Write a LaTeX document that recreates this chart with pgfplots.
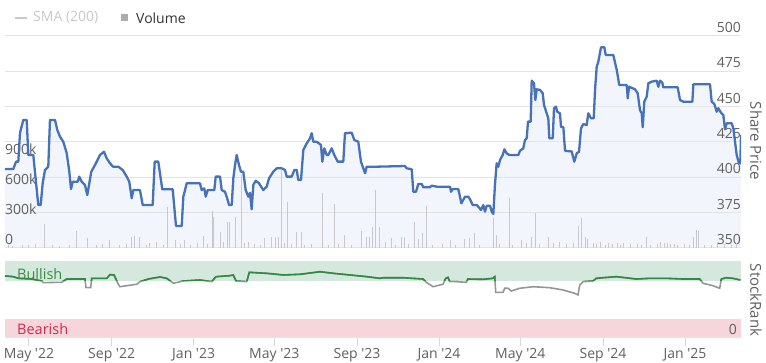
\documentclass[border=0pt]{standalone}
\usepackage{pgfplots}
\pgfplotsset{compat=1.18}
\usepackage{fontspec}
\setmainfont{Open Sans}
\definecolor{pricecol}{RGB}{69,114,185}
\definecolor{pricefill}{RGB}{242,245,252}
\definecolor{gridcol}{RGB}{228,228,228}
\definecolor{labcol}{RGB}{96,96,96}
\definecolor{volcol}{RGB}{200,200,205}
\definecolor{bullband}{RGB}{213,232,221}
\definecolor{bearband}{RGB}{246,213,219}
\definecolor{bullline}{RGB}{46,139,64}
\definecolor{bulltext}{RGB}{58,140,74}
\definecolor{beartext}{RGB}{206,45,75}
\definecolor{rankgray}{RGB}{150,150,150}
\definecolor{tickcol}{RGB}{210,216,228}
\definecolor{smacol}{RGB}{200,200,200}
\definecolor{legdark}{RGB}{51,51,51}

\pgfplotsset{
  base/.style={scale only axis, width=736pt, xmin=-35.7, xmax=1059.3,
    axis line style={draw=none}, tick style={draw=none}, xtick=\empty,
    scaled y ticks=false,
    /pgf/number format/assume math mode=true,
    every tick label/.append style={font=\fontsize{14}{16}\selectfont, text=labcol}},
}

\begin{document}
\begin{tikzpicture}
\useasboundingbox (0pt,0pt) rectangle (766pt,363pt);

% ---------- price axis: grid, labels, fill ----------
\begin{axis}[base, at={(5pt,115pt)}, anchor=south west, height=212pt,
  ymin=350, ymax=500, ytick={350,375,400,425,450,475,500},
  yticklabels={350,375,400,425,450,475,500},
  ymajorgrids, grid style={gridcol, line width=1pt},
  yticklabel pos=right, ytick pos=right,
  yticklabel style={anchor=south east, inner sep=0pt, yshift=3pt},
  axis on top]
\addplot[draw=none, fill=pricefill] coordinates {
(-35.7,405.9) (-23.4,405.9) (-19.3,411.1) (-15.9,411.1) (-13.4,431.4) (-8.5,440.6) (-3.4,440.6) (-1.0,415.8) (6.4,415.8) (13.8,380.4) (17.4,380.4) (20.4,396) (23.8,405.2) (28.7,407.5) (31.2,440.6) (38.7,440.6) (42.1,433.5) (46.1,428.8) (51.0,425.2) (56.1,417.2) (60.0,404) (62.5,391.7) (65.0,396.9) (72.5,396.9) (74.8,400.5) (78.4,396.9) (83.3,394.6) (86.7,387.5) (89.7,395.8) (92.7,404) (98.2,408.7) (105.6,415.8) (111.6,418.1) (115.6,413.5) (120.5,409.9) (125.4,407.5) (132.9,407.5) (139.4,405.2) (145.4,400.5) (149.2,396.9) (152.8,385.2) (155.2,391) (165.1,391) (169.2,380.4) (184.0,380.4) (187.0,411.1) (192.4,411.1) (198.3,391.5) (213.8,391.5) (218.7,365.6) (227.2,365.6) (229.6,386.3) (232.1,391) (234.6,395.8) (254.4,395.8) (256.9,391) (260.8,392.2) (262.9,386.3) (265.9,391) (275.7,391) (277.8,400.5) (284.2,400.5) (286.7,391) (291.6,389.8) (295.6,384) (297.6,380.4) (301.6,380.4) (304.0,399.3) (306.5,408.7) (309.0,415.8) (312.4,408.7) (315.4,404) (318.8,404) (322.4,391) (326.3,386.3) (328.8,389) (331.3,377.4) (333.7,394.6) (337.3,397.6) (342.2,395.8) (348.6,391) (353.6,393.4) (357.1,399.3) (363.5,404) (368.5,406.4) (376.0,406.4) (380.9,405.2) (383.4,400.5) (390.8,400.5) (394.7,405.2) (398.3,405.2) (400.7,398.1) (404.7,398.1) (408.1,419.3) (413.2,424.1) (418.1,427.6) (420.6,431.2) (423.0,425.2) (428.0,425.2) (434.4,422.9) (436.4,411.1) (439.3,420.5) (442.9,415.8) (445.3,415.8) (450.3,420.5) (454.2,415.8) (459.3,411.1) (467.6,411.1) (470.1,431.2) (480.1,431.6) (484.0,426.4) (489.9,425.2) (493.9,411.1) (499.9,402.9) (502.4,407.5) (514.8,407.5) (559.4,408) (561.9,406.4) (569.4,405.7) (571.8,389.8) (575.8,389.8) (579.2,395.3) (584.3,395.3) (586.6,393) (596.6,393) (599.1,394.1) (606.6,393.4) (626.4,393.4) (627.9,389.8) (630.4,391.7) (638.7,391.7) (641.2,386.3) (643.2,381.6) (648.7,386.3) (653.6,386.3) (656.1,384.5) (660.1,380.4) (666.1,380.4) (668.5,379.2) (672.5,376.9) (675.9,380.4) (678.4,375.7) (681.0,379.9) (685.9,379.9) (688.4,375.7) (690.8,374.1) (693.3,395.3) (695.8,409.9) (698.2,407.5) (700.8,412.3) (704.8,415.8) (707.2,419.8) (710.7,417) (714.6,415.8) (728.0,415.8) (730.5,418.8) (735.4,420.5) (737.9,426.4) (740.5,427.6) (742.4,439.4) (746.4,439.4) (747.9,468.4) (751.3,466.5) (753.3,454.7) (755.4,462.3) (760.3,461.8) (764.3,459.5) (766.2,451.2) (772.6,441.8) (774.1,427.6) (779.2,427.6) (781.1,448.9) (784.1,450) (786.0,446.4) (790.0,445.3) (791.5,435.8) (795.0,435.4) (797.5,418.8) (807.4,418.3) (811.3,411.1) (814.9,417) (818.3,418.1) (821.3,434.7) (824.7,437.7) (829.7,437) (832.1,445.3) (836.1,441.8) (840.2,441.8) (842.1,461.8) (844.6,478.3) (847.0,481.8) (851.0,492) (856.0,492) (858.0,486.6) (869.3,486.6) (874.4,476) (878.2,465.3) (889.3,465.3) (890.8,455.9) (892.7,464.1) (901.6,462.3) (905.6,459.5) (909.0,447.6) (911.6,445.3) (913.1,435.4) (915.4,453.5) (919.0,457.1) (921.4,466.5) (926.5,467.7) (933.9,468.4) (936.3,464.1) (938.8,468.4) (942.2,467) (943.7,463.7) (965.1,463.7) (968.6,454.7) (973.5,453.5) (986.9,453.5) (988.4,465.8) (1013.2,465.8) (1015.7,453.5) (1019.6,451.9) (1023.2,446.4) (1025.5,448.9) (1029.6,445.7) (1033.0,444.1) (1035.5,434) (1038.0,438.2) (1045.5,438.2) (1047.9,434.7) (1052.9,415.8) (1056.3,409.9) (1058.3,409.9) (1059.3,430)
} \closedcycle;
\end{axis}

% ---------- volume axis ----------
\begin{axis}[base, at={(5pt,115pt)}, anchor=south west, height=212pt,
  ymin=0, ymax=2120000, ytick={0,300000,600000,900000},
  yticklabels={0,300k,600k,900k},
  yticklabel pos=left, ytick pos=left,
  yticklabel style={anchor=south west, inner sep=0pt, yshift=3pt}]
\addplot[ycomb, volcol, line width=1pt, mark=none] coordinates {
(22.8,237000) (71.0,170000) (86.7,97000) (120.5,80000) (152.8,113000) (157.7,120000) (165.1,113000) (190.4,63000) (206.4,413000) (218.3,80000) (231.1,80000) (259.3,120000) (273.3,370000) (275.2,313000) (284.2,163000) (295.6,257000) (299.0,263000) (306.5,313000) (316.5,730000) (326.3,63000) (351.1,97000) (361.1,113000) (366.0,113000) (370.9,113000) (376.0,780000) (384.6,460000) (398.3,163000) (405.7,163000) (437.0,547000) (454.2,435000) (469.1,130000) (495.0,170000) (502.4,113000) (507.3,113000) (511.4,213000) (515.5,580000) (521.2,213000) (539.6,97000) (554.5,113000) (559.4,113000) (572.8,255000) (579.2,85000) (585.7,147000) (591.7,420000) (627.4,80000) (647.2,87000) (655.1,103000) (662.1,147000) (691.8,295000) (694.8,130000) (714.6,500000) (733.0,80000) (747.9,113000) (753.6,347000) (772.6,113000) (817.3,220000) (822.3,297000) (827.2,113000) (831.2,90000) (919.0,113000) (988.4,113000) (993.4,180000) (995.8,170000)
(-30,30000) (-25,20000) (-10,25000) (0,30000) (10,40000) (35,25000) (45,20000) (60,30000) (100,25000) (110,35000) (135,30000) (145,40000) (175,30000) (180,45000) (200,25000) (225,40000) (240,30000) (250,50000) (265,40000) (290,60000) (320,50000) (335,40000) (345,30000) (380,50000) (390,40000) (410,30000) (420,40000) (445,25000) (460,35000) (480,30000) (530,60000) (545,30000) (565,40000) (600,30000) (615,40000) (635,30000) (670,25000) (700,40000) (720,30000) (740,50000) (760,40000) (780,50000) (790,60000) (800,40000) (810,50000) (840,50000) (845,40000) (850,60000) (858,30000) (862,50000) (868,40000) (875,50000) (880,30000) (885,45000) (895,40000) (905,35000) (912,30000) (925,30000) (935,40000) (940,60000) (945,50000) (950,45000) (955,40000) (960,35000) (965,30000) (975,40000) (983,30000) (1005,30000) (1015,25000) (1025,35000) (1035,40000) (1045,30000) (1052,50000)
};
\end{axis}

% ---------- price line ----------
\begin{axis}[base, at={(5pt,115pt)}, anchor=south west, height=212pt,
  ymin=350, ymax=500, ytick=\empty]
\addplot[pricecol, line width=2.3pt, line join=round, mark=none] coordinates {
(-35.7,405.9) (-23.4,405.9) (-19.3,411.1) (-15.9,411.1) (-13.4,431.4) (-8.5,440.6) (-3.4,440.6) (-1.0,415.8) (6.4,415.8) (13.8,380.4) (17.4,380.4) (20.4,396) (23.8,405.2) (28.7,407.5) (31.2,440.6) (38.7,440.6) (42.1,433.5) (46.1,428.8) (51.0,425.2) (56.1,417.2) (60.0,404) (62.5,391.7) (65.0,396.9) (72.5,396.9) (74.8,400.5) (78.4,396.9) (83.3,394.6) (86.7,387.5) (89.7,395.8) (92.7,404) (98.2,408.7) (105.6,415.8) (111.6,418.1) (115.6,413.5) (120.5,409.9) (125.4,407.5) (132.9,407.5) (139.4,405.2) (145.4,400.5) (149.2,396.9) (152.8,385.2) (155.2,391) (165.1,391) (169.2,380.4) (184.0,380.4) (187.0,411.1) (192.4,411.1) (198.3,391.5) (213.8,391.5) (218.7,365.6) (227.2,365.6) (229.6,386.3) (232.1,391) (234.6,395.8) (254.4,395.8) (256.9,391) (260.8,392.2) (262.9,386.3) (265.9,391) (275.7,391) (277.8,400.5) (284.2,400.5) (286.7,391) (291.6,389.8) (295.6,384) (297.6,380.4) (301.6,380.4) (304.0,399.3) (306.5,408.7) (309.0,415.8) (312.4,408.7) (315.4,404) (318.8,404) (322.4,391) (326.3,386.3) (328.8,389) (331.3,377.4) (333.7,394.6) (337.3,397.6) (342.2,395.8) (348.6,391) (353.6,393.4) (357.1,399.3) (363.5,404) (368.5,406.4) (376.0,406.4) (380.9,405.2) (383.4,400.5) (390.8,400.5) (394.7,405.2) (398.3,405.2) (400.7,398.1) (404.7,398.1) (408.1,419.3) (413.2,424.1) (418.1,427.6) (420.6,431.2) (423.0,425.2) (428.0,425.2) (434.4,422.9) (436.4,411.1) (439.3,420.5) (442.9,415.8) (445.3,415.8) (450.3,420.5) (454.2,415.8) (459.3,411.1) (467.6,411.1) (470.1,431.2) (480.1,431.6) (484.0,426.4) (489.9,425.2) (493.9,411.1) (499.9,402.9) (502.4,407.5) (514.8,407.5) (559.4,408) (561.9,406.4) (569.4,405.7) (571.8,389.8) (575.8,389.8) (579.2,395.3) (584.3,395.3) (586.6,393) (596.6,393) (599.1,394.1) (606.6,393.4) (626.4,393.4) (627.9,389.8) (630.4,391.7) (638.7,391.7) (641.2,386.3) (643.2,381.6) (648.7,386.3) (653.6,386.3) (656.1,384.5) (660.1,380.4) (666.1,380.4) (668.5,379.2) (672.5,376.9) (675.9,380.4) (678.4,375.7) (681.0,379.9) (685.9,379.9) (688.4,375.7) (690.8,374.1) (693.3,395.3) (695.8,409.9) (698.2,407.5) (700.8,412.3) (704.8,415.8) (707.2,419.8) (710.7,417) (714.6,415.8) (728.0,415.8) (730.5,418.8) (735.4,420.5) (737.9,426.4) (740.5,427.6) (742.4,439.4) (746.4,439.4) (747.9,468.4) (751.3,466.5) (753.3,454.7) (755.4,462.3) (760.3,461.8) (764.3,459.5) (766.2,451.2) (772.6,441.8) (774.1,427.6) (779.2,427.6) (781.1,448.9) (784.1,450) (786.0,446.4) (790.0,445.3) (791.5,435.8) (795.0,435.4) (797.5,418.8) (807.4,418.3) (811.3,411.1) (814.9,417) (818.3,418.1) (821.3,434.7) (824.7,437.7) (829.7,437) (832.1,445.3) (836.1,441.8) (840.2,441.8) (842.1,461.8) (844.6,478.3) (847.0,481.8) (851.0,492) (856.0,492) (858.0,486.6) (869.3,486.6) (874.4,476) (878.2,465.3) (889.3,465.3) (890.8,455.9) (892.7,464.1) (901.6,462.3) (905.6,459.5) (909.0,447.6) (911.6,445.3) (913.1,435.4) (915.4,453.5) (919.0,457.1) (921.4,466.5) (926.5,467.7) (933.9,468.4) (936.3,464.1) (938.8,468.4) (942.2,467) (943.7,463.7) (965.1,463.7) (968.6,454.7) (973.5,453.5) (986.9,453.5) (988.4,465.8) (1013.2,465.8) (1015.7,453.5) (1019.6,451.9) (1023.2,446.4) (1025.5,448.9) (1029.6,445.7) (1033.0,444.1) (1035.5,434) (1038.0,438.2) (1045.5,438.2) (1047.9,434.7) (1052.9,415.8) (1056.3,409.9) (1058.3,409.9) (1059.3,430)
};
\end{axis}

% ---------- StockRank panel ----------
\begin{axis}[base, at={(5pt,25pt)}, anchor=south west, height=76pt,
  ymin=0, ymax=100, ytick={0,100}, yticklabels={0,{}},
  ymajorgrids, grid style={gridcol, line width=1pt},
  yticklabel pos=right, ytick pos=right,
  yticklabel style={anchor=south east, inner sep=0pt, yshift=3pt, xshift=-12pt},
  xtick={0,123,245,365,488,610,731,854,976},
  xticklabels={May \textquotesingle22,Sep \textquotesingle22,Jan \textquotesingle23,May \textquotesingle23,Sep \textquotesingle23,Jan \textquotesingle24,May \textquotesingle24,Sep \textquotesingle24,Jan \textquotesingle25},
  xtick pos=bottom, tick align=outside, major tick length=8pt,
  xtick style={draw=tickcol, line width=1pt}, ytick style={draw=none},
  xticklabel style={anchor=north, inner sep=0pt, yshift=-2pt},
  axis on top]
\addplot[fill=bullband, draw=none] coordinates {(-35.7,75) (1059.3,75) (1059.3,100) (-35.7,100)} -- cycle;
\addplot[fill=bearband, draw=none] coordinates {(-35.7,0) (1059.3,0) (1059.3,25) (-35.7,25)} -- cycle;
\addplot[rankgray, line width=1.6pt, mark=none] coordinates {
(-35.7,81.6) (-23.4,80.7) (-15.9,78.5) (4.0,77.6) (18.9,75) (21.3,72.8) (48.7,73.3) (56.1,77.6) (83.3,77.6) (84.8,66.2) (91.8,66.2) (93.3,78.5) (115.6,78.5) (120.5,83.4) (126.5,82.9) (132.9,70.7) (135.4,67.5) (145.4,68.8) (160.2,70.7) (165.1,74.1) (177.5,77.6) (194.9,80.3) (204.9,78.5) (214.7,72) (229.6,75) (254.4,76.3) (271.8,74.1) (278.2,80.7) (299.0,82) (303.9,82.9) (308.0,75) (323.9,74.1) (327.8,86.4) (353.6,85.1) (378.3,82.9) (403.2,83.8) (433.0,87.2) (452.7,85.1) (477.6,82.9) (502.4,80.7) (522.2,78.5) (526.7,79.3) (556.4,79.3) (586.2,77.6) (591.1,73.3) (601.1,67.5) (611.1,69.7) (616.0,70.7) (620.0,78.5) (623.4,79.8) (626.0,74.1) (635.7,74.1) (650.6,73.3) (653.1,77.6) (675.5,77.2) (690.3,78.5) (692.9,80.7) (694.4,60.1) (705.2,60.1) (707.8,65.4) (712.7,65.4) (717.6,61.8) (730.1,65.4) (749.9,67.5) (774.7,66.2) (794.5,63.2) (811.9,58.8) (816.8,56.6) (819.3,69.7) (824.2,74.1) (839.1,75) (844.0,78.5) (854.0,79.3) (873.8,80.7) (903.6,77.6) (923.5,78.5) (948.2,78.5) (973.0,77.6) (997.9,77.6) (1002.8,72) (1017.7,68.8) (1027.6,65.4) (1030.0,77.6) (1037.4,79.3) (1047.4,78.5) (1058.3,76.3)
};
\end{axis}

% green part of the StockRank line (bullish zone only)
\begin{axis}[base, at={(5pt,82pt)}, anchor=south west, height=19pt,
  ymin=75, ymax=100, ytick=\empty]
\addplot[bullline, line width=1.6pt, mark=none] coordinates {
(-35.7,81.6) (-23.4,80.7) (-15.9,78.5) (4.0,77.6) (18.9,75) (21.3,72.8) (48.7,73.3) (56.1,77.6) (83.3,77.6) (84.8,66.2) (91.8,66.2) (93.3,78.5) (115.6,78.5) (120.5,83.4) (126.5,82.9) (132.9,70.7) (135.4,67.5) (145.4,68.8) (160.2,70.7) (165.1,74.1) (177.5,77.6) (194.9,80.3) (204.9,78.5) (214.7,72) (229.6,75) (254.4,76.3) (271.8,74.1) (278.2,80.7) (299.0,82) (303.9,82.9) (308.0,75) (323.9,74.1) (327.8,86.4) (353.6,85.1) (378.3,82.9) (403.2,83.8) (433.0,87.2) (452.7,85.1) (477.6,82.9) (502.4,80.7) (522.2,78.5) (526.7,79.3) (556.4,79.3) (586.2,77.6) (591.1,73.3) (601.1,67.5) (611.1,69.7) (616.0,70.7) (620.0,78.5) (623.4,79.8) (626.0,74.1) (635.7,74.1) (650.6,73.3) (653.1,77.6) (675.5,77.2) (690.3,78.5) (692.9,80.7) (694.4,60.1) (705.2,60.1) (707.8,65.4) (712.7,65.4) (717.6,61.8) (730.1,65.4) (749.9,67.5) (774.7,66.2) (794.5,63.2) (811.9,58.8) (816.8,56.6) (819.3,69.7) (824.2,74.1) (839.1,75) (844.0,78.5) (854.0,79.3) (873.8,80.7) (903.6,77.6) (923.5,78.5) (948.2,78.5) (973.0,77.6) (997.9,77.6) (1002.8,72) (1017.7,68.8) (1027.6,65.4) (1030.0,77.6) (1037.4,79.3) (1047.4,78.5) (1058.3,76.3)
};
\end{axis}

% ---------- texts ----------
\node[anchor=west, inner sep=0pt, text=bulltext, font=\fontsize{14.5}{16}\selectfont] at (17pt,89pt) {Bullish};
\node[anchor=west, inner sep=0pt, text=beartext, font=\fontsize{14.5}{16}\selectfont] at (17pt,34pt) {Bearish};
\node[rotate=-90, inner sep=0pt, text=labcol, font=\fontsize{15}{18}\selectfont] at (756pt,222pt) {Share Price};
\node[rotate=-90, inner sep=0pt, text=labcol, font=\fontsize{15}{18}\selectfont] at (756pt,63pt) {StockRank};
% legend
\draw[smacol, line width=1.2pt] (15pt,345pt) -- (27pt,345pt);
\node[anchor=west, inner sep=0pt, text=smacol, font=\fontsize{14}{16}\selectfont] at (33pt,345pt) {SMA (200)};
\fill[gray!65] (121pt,341.5pt) rectangle (128pt,348.5pt);
\node[anchor=west, inner sep=0pt, text=legdark, font=\fontsize{14}{16}\selectfont] at (136pt,345pt) {Volume};
\end{tikzpicture}
\end{document}
